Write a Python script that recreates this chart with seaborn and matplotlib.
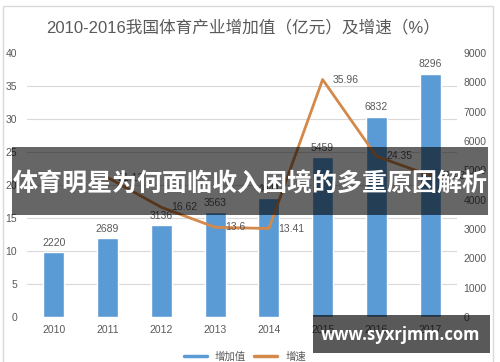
import seaborn as sns
import matplotlib.pyplot as plt
from matplotlib.patches import Rectangle
from matplotlib.lines import Line2D
import numpy as np
import pandas as pd

# Data
years = ['2010', '2011', '2012', '2013', '2014', '2015', '2016', '2017']
added_value = [2220, 2689, 3136, 3563, 4041, 5459, 6832, 8296]
growth = [np.nan, 21.13, 16.62, 13.6, 13.41, 35.96, 24.35, 21.43]
growth_labels = ['', '21.13', '16.62', '13.6', '13.41', '35.96', '24.35', '21.43']

title = '2010-2016我国体育产业增加值（亿元）及增速（%）'
banner_text = '体育明星为何面临收入困境的多重原因解析'
watermark = 'www.syxrjmm.com'
legend_labels = ['增加值', '增速']

bar_color = '#5B9BD5'
line_color = '#D4894A'
text_grey = '#595959'
grid_grey = '#D9D9D9'

sns.set_theme(style='white')
plt.rcParams['font.family'] = ['Liberation Sans', 'Noto Sans CJK SC', 'DejaVu Sans']

df = pd.DataFrame({'year': years, 'value': added_value, 'growth': growth})
df['pos'] = np.arange(len(df))

fig = plt.figure(figsize=(5, 3.62), dpi=100)
ax = fig.add_axes([0.054, 0.124, 0.86, 0.73])

# Bars (right axis values)
sns.barplot(data=df, x='year', y='value', color=bar_color, width=0.39,
            saturation=1, ax=ax, zorder=2)
ax.set_ylim(0, 9000)
ax.set_yticks(np.arange(0, 9001, 1000))
ax.set_yticks(np.linspace(0, 9000, 9), minor=True)
ax.grid(which='minor', axis='y', color=grid_grey, linewidth=0.8)
ax.grid(which='major', visible=False)
ax.set_axisbelow(True)
ax.set_xlabel('')
ax.set_ylabel('')
ax.bar_label(ax.containers[0], labels=[str(v) for v in added_value],
             padding=3, fontsize=7.5, color=text_grey)

# Growth line (left axis percent)
ax2 = ax.twinx()
sns.lineplot(x=df['pos'], y=df['growth'], color=line_color, linewidth=2,
             ax=ax2, legend=False)
ax2.yaxis.tick_left()
ax2.set_ylim(0, 40)
ax2.set_yticks(np.arange(0, 41, 5))
ax2.tick_params(axis='y', length=0, pad=7, labelcolor=text_grey, labelsize=7.5)
ax2.set_ylabel('')
ax2.set_xlabel('')
for x, g, lab in zip(df['pos'], growth, growth_labels):
    if lab:
        ax2.annotate(lab, (x, g), xytext=(7, 0), textcoords='offset points',
                     ha='left', va='center', fontsize=7.5, color=text_grey)
ax.set_xlim(-0.5, len(years) - 0.5)

# twinx resets the first axis to the left, so move it right afterwards
ax.yaxis.tick_right()
ax.tick_params(axis='y', which='both', length=0, pad=4.5,
               labelcolor=text_grey, labelsize=7.5)
ax.tick_params(axis='x', length=0, pad=6, labelcolor=text_grey, labelsize=7.5)

for a in (ax, ax2):
    for s in a.spines.values():
        s.set_visible(False)

# Chart frame, title and legend
fig.patches.append(Rectangle((0.006, -0.01), 0.98, 0.993, fill=False,
                             edgecolor=grid_grey, linewidth=1,
                             transform=fig.transFigure, zorder=0))
fig.text(0.486, 0.925, title, ha='center', va='center', fontsize=12,
         color=text_grey)
handles = [Line2D([], [], color=bar_color, linewidth=2.5),
           Line2D([], [], color=line_color, linewidth=2.5)]
fig.legend(handles, legend_labels, loc='center', bbox_to_anchor=(0.49, 0.014),
           ncol=2, frameon=False, fontsize=7.5, handlelength=2.2,
           columnspacing=0.8, labelcolor=text_grey)

# Overlay banner
fig.patches.append(Rectangle((0.024, 0.406), 0.952, 0.188, facecolor='black',
                             alpha=0.6, edgecolor='none',
                             transform=fig.transFigure, zorder=5))
fig.text(0.5, 0.489, banner_text, ha='center', va='center', fontsize=18,
         fontweight='bold', color='white', zorder=6)

# Watermark
fig.patches.append(Rectangle((0.626, 0.025), 0.354, 0.105, facecolor='black',
                             alpha=0.65, edgecolor='none',
                             transform=fig.transFigure, zorder=5))
fig.text(0.802, 0.075, watermark, ha='center', va='center', fontsize=12,
         fontweight='bold', color='white', zorder=6,
         family=['Open Sans', 'DejaVu Sans'])

fig.savefig('out.png', dpi=100)
